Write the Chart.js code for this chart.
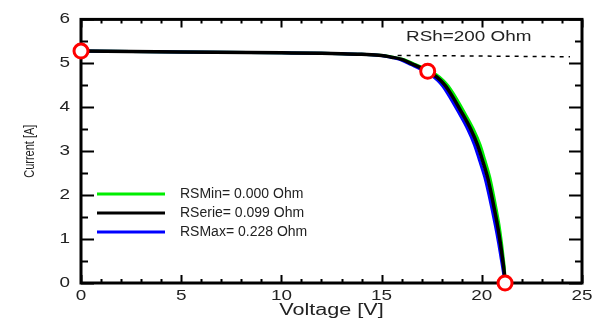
<!DOCTYPE html>
<html><head><meta charset="utf-8">
<script src="https://cdn.jsdelivr.net/npm/chart.js@4"></script>
<style>html,body{margin:0;padding:0;background:#fff}#wrap{width:595px;height:320px}</style>
</head><body><div id="wrap"><canvas id="c" width="595" height="320"></canvas></div>
<script>
// ---- data ----
const currentA     = [5.28, 5.26, 5.24, 5.23, 5.22, 5.205, 5.18, 5.14, 5.09, 4.97, 4.82, 4.74, 4.61, 4.48, 4.31, 3.92, 3.50, 3.15, 2.80, 2.42, 2.08, 1.70, 1.32, 0.93, 0.57, 0.24, 0];
const voltageSerie = [0, 5, 10, 12, 13, 14, 15.00, 15.50, 16.00, 16.60, 17.30, 17.60, 17.95, 18.20, 18.45, 18.95, 19.45, 19.78, 20.03, 20.28, 20.45, 20.62, 20.78, 20.92, 21.03, 21.12, 21.16];
const voltageMin   = [0, 5, 10, 12, 13, 14, 15.03, 15.56, 16.08, 16.70, 17.42, 17.73, 18.08, 18.33, 18.58, 19.08, 19.58, 19.91, 20.15, 20.39, 20.55, 20.71, 20.86, 20.98, 21.07, 21.14, 21.16];
const voltageMax   = [0, 5, 10, 12, 13, 14, 14.96, 15.44, 15.90, 16.48, 17.16, 17.45, 17.80, 18.05, 18.30, 18.80, 19.30, 19.63, 19.88, 20.14, 20.32, 20.50, 20.67, 20.83, 20.96, 21.08, 21.16];
const markerV = [0, 17.3, 21.16];
const markerI = [5.28, 4.82, 0];
const rshV = [15.8, 24.4];
const rshI = [5.18, 5.15];
const xTickValues = [0, 5, 10, 15, 20, 25];
const yTickValues = [0, 1, 2, 3, 4, 5, 6];
const seriesLabels = ['RSMin= 0.000 Ohm', 'RSerie= 0.099 Ohm', 'RSMax= 0.228 Ohm'];
const rshLabel = 'RSh=200 Ohm';
const xTitle = 'Voltage [V]';
const yTitle = 'Current [A]';

const COL_MIN = '#00ee00', COL_SER = '#000000', COL_MAX = '#0000ff';
const FONT = '"Liberation Sans", Arial, sans-serif';

// The reference text is horizontally stretched: widen glyphs in screen x around their anchor.
let textStretch = 1.35;
const origFillText = CanvasRenderingContext2D.prototype.fillText;
CanvasRenderingContext2D.prototype.fillText = function (t, x, y, mw) {
  if (textStretch === 1) return origFillText.call(this, t, x, y, mw);
  const m = this.getTransform();
  const px = m.a * x + m.c * y + m.e;
  this.save();
  this.setTransform(textStretch * m.a, m.b, textStretch * m.c, m.d, textStretch * (m.e - px) + px, m.f);
  origFillText.call(this, t, x, y);
  this.restore();
};

const pts = (xs, ys) => xs.map((x, i) => ({x, y: ys[i]}));

const framePlugin = {
  id: 'frame',
  beforeDatasetsDraw(chart) {
    const {ctx, chartArea: a, scales: {x, y}} = chart;
    ctx.save();
    ctx.strokeStyle = '#000';
    ctx.lineWidth = 2;
    ctx.beginPath();
    for (let v = 0; v <= 25; v += 1) {
      const px = Math.round(x.getPixelForValue(v)) + 0.5;
      const len = (v % 5 === 0) ? 8 : 4;
      ctx.moveTo(px, a.bottom); ctx.lineTo(px, a.bottom - len);
      ctx.moveTo(px, a.top); ctx.lineTo(px, a.top + len);
    }
    for (let v = 0; v <= 6; v += 0.5) {
      const py = Math.round(y.getPixelForValue(v)) + 0.5;
      const len = (v % 1 === 0) ? 13 : 7;
      ctx.moveTo(a.left, py); ctx.lineTo(a.left + len, py);
      ctx.moveTo(a.right, py); ctx.lineTo(a.right - len, py);
    }
    ctx.stroke();
    ctx.lineWidth = 3;
    ctx.strokeRect(a.left, a.top, a.right - a.left, a.bottom - a.top);
    ctx.restore();
  },
  afterDraw(chart) {
    const {ctx} = chart;
    ctx.save();
    ctx.font = '14px ' + FONT;
    ctx.fillStyle = '#222';
    ctx.textBaseline = 'middle';
    ctx.textAlign = 'left';
    textStretch = 1.35;
    ctx.fillText(rshLabel, 406, 37);
    textStretch = 1;
    const cols = [COL_MIN, COL_SER, COL_MAX];
    const ys = [194, 213, 232];
    ctx.lineWidth = 3;
    for (let i = 0; i < 3; i++) {
      ctx.strokeStyle = cols[i];
      ctx.beginPath(); ctx.moveTo(97, ys[i]); ctx.lineTo(165, ys[i]); ctx.stroke();
      ctx.fillText(seriesLabels[i], 180, ys[i]);
    }
    textStretch = 1.35;
    ctx.restore();
  }
};

new Chart(document.getElementById('c'), {
  type: 'scatter',
  data: {
    datasets: [
      {label: 'markers', data: pts(markerV, markerI), showLine: false, pointStyle: 'circle', pointRadius: 7, pointHoverRadius: 7,
       pointBorderWidth: 3, borderColor: '#ff0000', pointBorderColor: '#ff0000', pointBackgroundColor: '#ffffff', backgroundColor: '#ffffff', clip: false, order: 0},
      {label: seriesLabels[1], data: pts(voltageSerie, currentA), showLine: true, borderColor: COL_SER, borderWidth: 3.5, pointRadius: 0, cubicInterpolationMode: 'monotone', order: 1},
      {label: seriesLabels[2], data: pts(voltageMax, currentA), showLine: true, borderColor: COL_MAX, borderWidth: 3, pointRadius: 0, cubicInterpolationMode: 'monotone', order: 2},
      {label: seriesLabels[0], data: pts(voltageMin, currentA), showLine: true, borderColor: COL_MIN, borderWidth: 3, pointRadius: 0, cubicInterpolationMode: 'monotone', order: 3},
      {label: 'RSh', data: pts(rshV, rshI), showLine: true, borderColor: '#000', borderWidth: 1.5, borderDash: [4, 5], pointRadius: 0, order: 4}
    ]
  },
  options: {
    responsive: false, animation: false, devicePixelRatio: 1,
    layout: {padding: {top: 16, right: 13, left: 0, bottom: 0}},
    plugins: {legend: {display: false}, tooltip: {enabled: false}},
    scales: {
      x: {
        type: 'linear', min: 0, max: 25,
        afterFit: s => { s.height = 37; },
        afterBuildTicks: s => { s.ticks = xTickValues.map(v => ({value: v})); },
        grid: {display: false, drawTicks: false}, border: {display: false},
        ticks: {font: {size: 14, family: FONT}, color: '#222', padding: 5, maxRotation: 0},
        title: {display: true, text: xTitle, font: {size: 16, family: FONT}, color: '#222', padding: {top: 0, bottom: 0}}
      },
      y: {
        type: 'linear', min: 0, max: 6,
        afterFit: s => { s.width = 81; },
        afterBuildTicks: s => { s.ticks = yTickValues.map(v => ({value: v})); },
        grid: {display: false, drawTicks: false}, border: {display: false},
        ticks: {font: {size: 14, family: FONT}, color: '#222', padding: 11},
        title: {display: true, text: yTitle, font: {size: 11, family: FONT}, color: '#222', padding: {top: 23, bottom: 0}}
      }
    }
  },
  plugins: [framePlugin]
});
</script>
</body></html>
